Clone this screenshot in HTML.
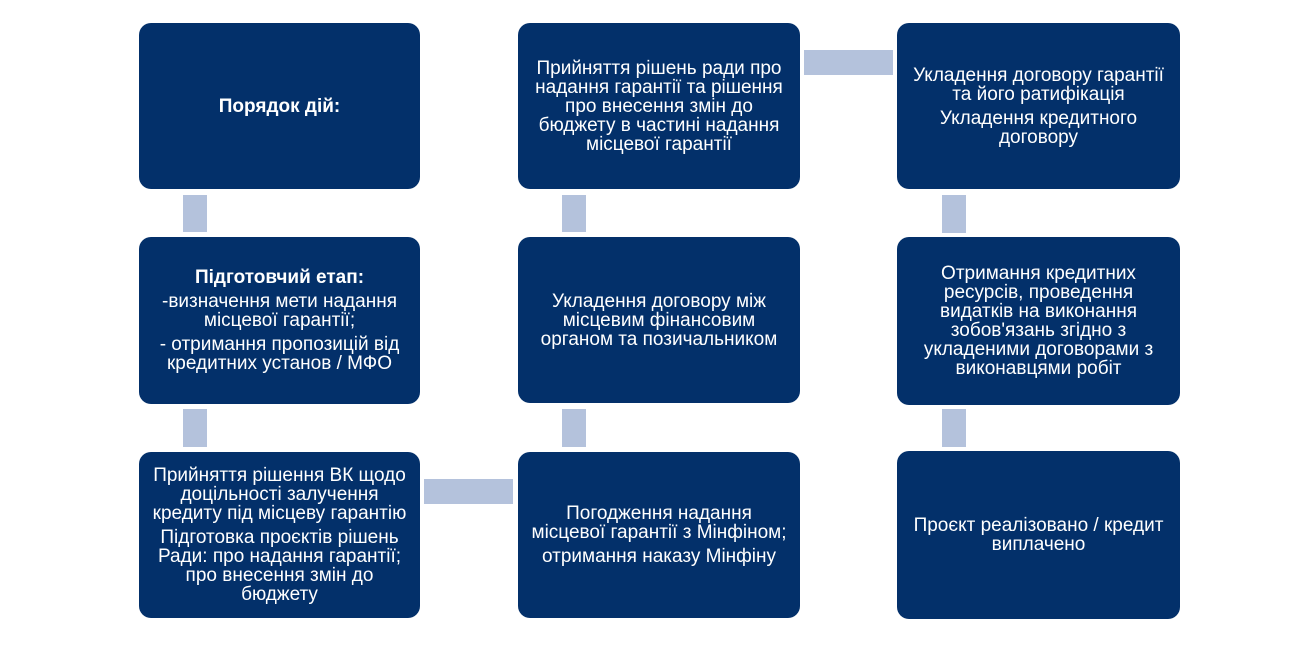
<!DOCTYPE html>
<html><head><meta charset="utf-8"><style>
body{margin:0;width:1306px;height:662px;background:#fff;position:relative;overflow:hidden;font-family:"Liberation Sans",Arial,sans-serif}
.b{position:absolute;background:#03306a;border-radius:12px;color:#fff;display:flex;flex-direction:column;justify-content:center;align-items:center;text-align:center;font-size:19px;line-height:19px;box-sizing:border-box;white-space:nowrap}
.b p{margin:0 0 5px}
.b p:last-child{margin-bottom:0}
.c{position:absolute;background:#b4c2dc}
</style></head><body>
<div class="b" style="left:139px;top:23px;width:281px;height:166px"><p><b>Порядок дій:</b></p></div>
<div class="b" style="left:139px;top:237px;width:281px;height:167px"><p><b>Підготовчий етап:</b></p><p>-визначення мети надання<br>місцевої гарантії;</p><p>- отримання пропозицій від<br>кредитних установ / МФО</p></div>
<div class="b" style="left:139px;top:452px;width:281px;height:166px"><p>Прийняття рішення ВК щодо<br>доцільності залучення<br>кредиту під місцеву гарантію</p><p>Підготовка проєктів рішень<br>Ради: про надання гарантії;<br>про внесення змін до<br>бюджету</p></div>
<div class="b" style="left:518px;top:23px;width:282px;height:166px"><p>Прийняття рішень ради про<br>надання гарантії та рішення<br>про внесення змін до<br>бюджету в частині надання<br>місцевої гарантії</p></div>
<div class="b" style="left:518px;top:237px;width:282px;height:166px"><p>Укладення договору між<br>місцевим фінансовим<br>органом та позичальником</p></div>
<div class="b" style="left:518px;top:452px;width:282px;height:166px"><p>Погодження надання<br>місцевої гарантії з Мінфіном;</p><p>отримання наказу Мінфіну</p></div>
<div class="b" style="left:897px;top:23px;width:283px;height:166px"><p>Укладення договору гарантії<br>та його ратифікація</p><p>Укладення кредитного<br>договору</p></div>
<div class="b" style="left:897px;top:237px;width:283px;height:168px"><p>Отримання кредитних<br>ресурсів, проведення<br>видатків на виконання<br>зобов'язань згідно з<br>укладеними договорами з<br>виконавцями робіт</p></div>
<div class="b" style="left:897px;top:451px;width:283px;height:168px"><p>Проєкт реалізовано / кредит<br>виплачено</p></div>
<div class="c" style="left:183px;top:195px;width:24px;height:37px"></div>
<div class="c" style="left:183px;top:409px;width:24px;height:38px"></div>
<div class="c" style="left:562px;top:195px;width:24px;height:37px"></div>
<div class="c" style="left:562px;top:409px;width:24px;height:38px"></div>
<div class="c" style="left:942px;top:195px;width:24px;height:38px"></div>
<div class="c" style="left:942px;top:409px;width:24px;height:38px"></div>
<div class="c" style="left:424px;top:479px;width:89px;height:25px"></div>
<div class="c" style="left:804px;top:50px;width:89px;height:25px"></div>
</body></html>
